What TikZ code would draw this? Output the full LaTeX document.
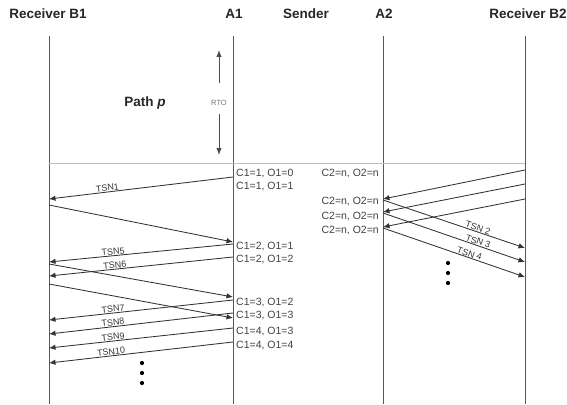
\documentclass[tikz,border=0pt]{standalone}
\usepackage{fontspec}
\setmainfont{Liberation Sans}
\usetikzlibrary{arrows.meta}
\begin{document}
\begin{tikzpicture}[x=1pt,y=-1pt,
  lifeline/.style={draw=black!65, line width=0.9pt},
  sepline/.style={draw=black!25, line width=0.8pt},
  msg/.style={draw=black!80, line width=0.85pt, -{Latex[length=6.5pt,width=5.5pt]}},
  rtoarrow/.style={draw=black!70, line width=0.9pt, -{Latex[length=7pt,width=5.5pt]}},
  head/.style={font=\fontsize{13.5}{15}\selectfont\bfseries, text=black!85, inner sep=0pt},
  statelbl/.style={font=\fontsize{10.5}{12}\selectfont, text=black!75, inner sep=0pt},
  tsn/.style={font=\fontsize{9}{10}\selectfont, text=black!80, sloped, above, inner sep=0.5pt},
  bigdot/.style={circle, fill=black, inner sep=0pt, minimum size=4.2pt}]
\useasboundingbox (0,0) rectangle (567,404);

% column headers
\node[head] (hB1) at (48,14) {Receiver B1};
\node[head] (hA1) at (234,14) {A1};
\node[head] (hS)  at (306,14) {Sender};
\node[head] (hA2) at (384,14) {A2};
\node[head] (hB2) at (528,14) {Receiver B2};

% lifelines
\coordinate (B1top) at (49,36);  \coordinate (B1bot) at (49,404);
\coordinate (A1top) at (233,36); \coordinate (A1bot) at (233,404);
\coordinate (A2top) at (383,36); \coordinate (A2bot) at (383,404);
\coordinate (B2top) at (525,36); \coordinate (B2bot) at (525,404);
\draw[lifeline] (B1top) -- (B1bot);
\draw[lifeline] (A1top) -- (A1bot);
\draw[lifeline] (A2top) -- (A2bot);
\draw[lifeline] (B2top) -- (B2bot);

% separator after the retransmission timeout
\coordinate (sepL) at (49,163); \coordinate (sepR) at (525,163);
\draw[sepline] (sepL) -- (sepR);

% RTO interval and path label
\node[font=\fontsize{7.5}{8}\selectfont, text=black!55, inner sep=0pt] (rto) at (219,103) {RTO};
\coordinate (rtoA) at (219,83);  \coordinate (rtoUp) at (219,50);
\coordinate (rtoB) at (219,114); \coordinate (rtoDown) at (219,155);
\draw[rtoarrow] (rtoA) -- (rtoUp);
\draw[rtoarrow] (rtoB) -- (rtoDown);
\node[head] (path) at (145,103) {Path \textit{p}};

% endpoints on the B1 / A1 side
\coordinate (a1m1) at (233,177);  \coordinate (b1m1) at (49,199);
\coordinate (b1m2) at (49,205);   \coordinate (a1m2) at (233,242);
\coordinate (a1m3) at (233,244);  \coordinate (b1m3) at (49,262);
\coordinate (a1m4) at (233,257);  \coordinate (b1m4) at (49,276);
\coordinate (b1m5) at (49,264);   \coordinate (a1m5) at (233,297);
\coordinate (b1m6) at (49,284);   \coordinate (a1m6) at (233,318);
\coordinate (a1m7) at (233,300);  \coordinate (b1m7) at (49,320);
\coordinate (a1m8) at (233,313);  \coordinate (b1m8) at (49,334);
\coordinate (a1m9) at (233,328);  \coordinate (b1m9) at (49,348);
\coordinate (a1m10) at (233,342); \coordinate (b1m10) at (49,363);

\draw[msg] (a1m1) -- node[tsn, pos=0.68] {TSN1} (b1m1);
\draw[msg] (b1m2) -- (a1m2);
\draw[msg] (a1m3) -- node[tsn, pos=0.65] {TSN5} (b1m3);
\draw[msg] (a1m4) -- node[tsn, pos=0.64] {TSN6} (b1m4);
\draw[msg] (b1m5) -- (a1m5);
\draw[msg] (b1m6) -- (a1m6);
\draw[msg] (a1m7) -- node[tsn, pos=0.65] {TSN7} (b1m7);
\draw[msg] (a1m8) -- node[tsn, pos=0.65] {TSN8} (b1m8);
\draw[msg] (a1m9) -- node[tsn, pos=0.65] {TSN9} (b1m9);
\draw[msg] (a1m10) -- node[tsn, pos=0.66] {TSN10} (b1m10);

% endpoints on the A2 / B2 side
\coordinate (b2r1) at (525,170); \coordinate (a2r1) at (383,199);
\coordinate (b2r2) at (525,184); \coordinate (a2r2) at (383,212);
\coordinate (b2r3) at (525,199); \coordinate (a2r3) at (383,227);
\coordinate (a2r4) at (383,200); \coordinate (b2r4) at (525,248);
\coordinate (a2r5) at (383,213); \coordinate (b2r5) at (525,262);
\coordinate (a2r6) at (383,228); \coordinate (b2r6) at (525,277);

\draw[msg] (b2r1) -- (a2r1);
\draw[msg] (b2r2) -- (a2r2);
\draw[msg] (b2r3) -- (a2r3);
\draw[msg] (a2r4) -- node[tsn, pos=0.66] {TSN 2} (b2r4);
\draw[msg] (a2r5) -- node[tsn, pos=0.66] {TSN 3} (b2r5);
\draw[msg] (a2r6) -- node[tsn, pos=0.60] {TSN 4} (b2r6);

% counter states at A1
\node[statelbl, anchor=west] (s1) at (236,174) {C1=1, O1=0};
\node[statelbl, anchor=west] (s2) at (236,187) {C1=1, O1=1};
\node[statelbl, anchor=west] (s3) at (236,247) {C1=2, O1=1};
\node[statelbl, anchor=west] (s4) at (236,260) {C1=2, O1=2};
\node[statelbl, anchor=west] (s5) at (236,303) {C1=3, O1=2};
\node[statelbl, anchor=west] (s6) at (236,316) {C1=3, O1=3};
\node[statelbl, anchor=west] (s7) at (236,332) {C1=4, O1=3};
\node[statelbl, anchor=west] (s8) at (236,346) {C1=4, O1=4};

% counter states at A2
\node[statelbl, anchor=east] (t1) at (379,174) {C2=n, O2=n};
\node[statelbl, anchor=east] (t2) at (379,202) {C2=n, O2=n};
\node[statelbl, anchor=east] (t3) at (379,217) {C2=n, O2=n};
\node[statelbl, anchor=east] (t4) at (379,231) {C2=n, O2=n};

% continuation dots
\node[bigdot] (d1) at (142,363) {};
\node[bigdot] (d2) at (142,373) {};
\node[bigdot] (d3) at (142,383) {};
\node[bigdot] (e1) at (448,263) {};
\node[bigdot] (e2) at (448,273) {};
\node[bigdot] (e3) at (448,283) {};
\end{tikzpicture}
\end{document}
